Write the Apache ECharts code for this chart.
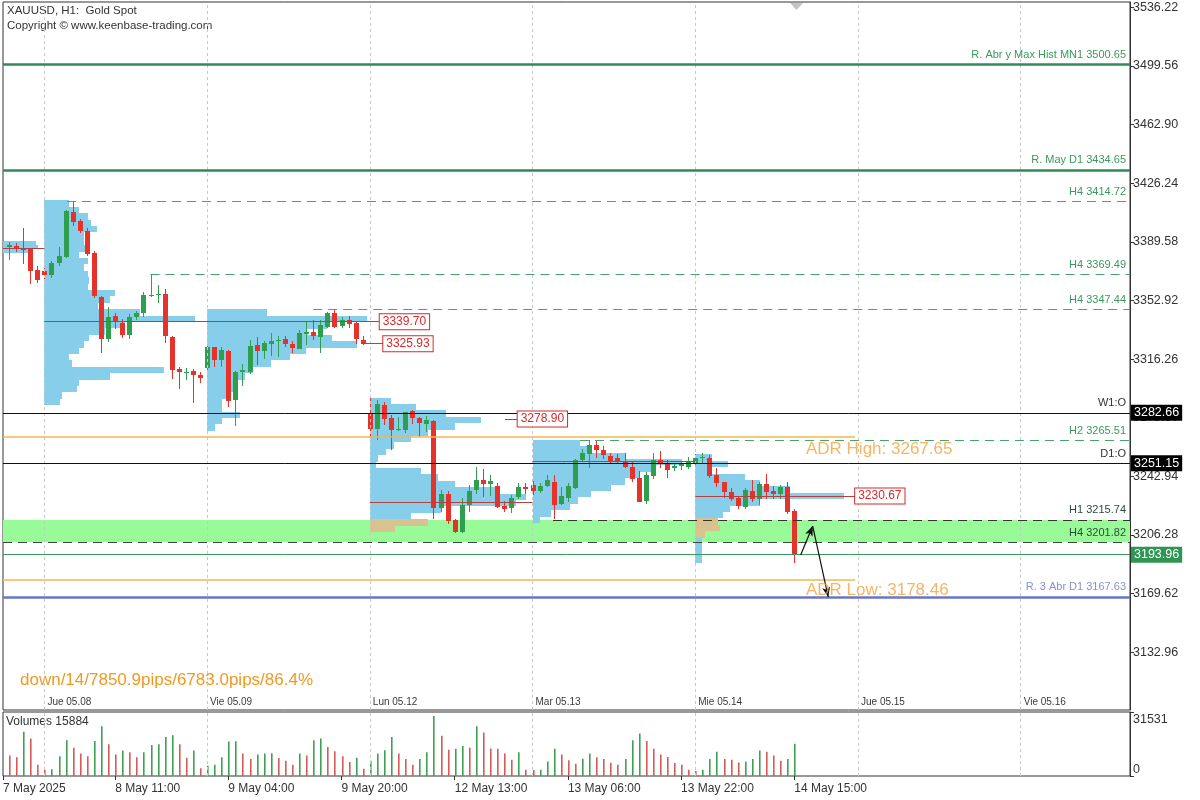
<!DOCTYPE html>
<html><head><meta charset="utf-8">
<script src="https://cdn.jsdelivr.net/npm/echarts@6/dist/echarts.min.js"></script>
<style>html,body{margin:0;padding:0;background:#fff}#c{width:1200px;height:800px}</style>
</head><body><div id="c"></div>
<script>
// ---------- DATA ----------
// H1 bars, index 0 = 7 May 19:00 ... index 111 = 14 May 15:00 ; [open, high, low, close]
const ohlc = [
[3386.0,3389.6,3378.6,3387.3],[3387.0,3388.8,3383.0,3385.0],[3385.5,3398.3,3375.7,3384.0],[3385.5,3386.0,3363.8,3371.4],
[3372.0,3374.6,3364.2,3365.7],[3371.3,3373.0,3366.0,3368.5],[3368.5,3377.6,3367.0,3376.1],[3376.2,3386.5,3374.6,3380.7],
[3380.3,3409.6,3379.5,3408.8],[3408.5,3414.72,3400.0,3402.0],[3402.5,3404.0,3395.5,3396.5],[3396.5,3398.3,3381.0,3382.4],
[3382.4,3383.8,3354.2,3355.3],[3355.3,3356.0,3320.3,3329.3],[3329.3,3349.0,3327.2,3342.8],[3343.0,3345.0,3335.0,3339.0],
[3339.0,3341.5,3329.5,3331.4],[3331.4,3344.5,3329.0,3342.8],[3342.4,3346.5,3341.0,3345.0],[3344.8,3358.5,3343.0,3356.3],
[3356.2,3369.49,3355.0,3356.5],[3356.5,3362.5,3351.0,3357.0],[3357.0,3360.0,3326.5,3330.7],[3330.3,3330.7,3304.0,3309.9],
[3310.0,3311.5,3298.0,3308.0],[3308.0,3311.0,3303.5,3308.5],[3309.0,3310.0,3289.0,3306.5],[3306.5,3308.0,3301.0,3304.8],
[3311.0,3324.5,3309.5,3324.0],[3323.7,3324.0,3311.5,3315.7],[3315.7,3324.0,3311.5,3322.0],[3321.5,3322.0,3286.5,3290.5],
[3290.5,3309.0,3274.5,3308.0],[3308.0,3313.5,3299.5,3309.5],[3308.5,3328.0,3307.0,3324.6],[3325.0,3330.3,3312.6,3321.3],
[3321.3,3327.5,3316.0,3326.2],[3325.5,3332.3,3318.0,3327.5],[3327.5,3331.0,3318.0,3328.0],[3328.8,3330.5,3323.5,3325.5],
[3325.7,3327.7,3320.0,3323.0],[3323.0,3334.5,3322.5,3332.8],[3332.0,3339.2,3325.0,3333.0],[3333.0,3340.7,3328.2,3330.3],
[3330.3,3341.0,3320.3,3337.6],[3336.5,3345.8,3336.0,3345.3],[3345.3,3347.44,3335.7,3336.5],[3337.3,3342.7,3336.0,3341.0],
[3341.0,3343.5,3336.0,3338.6],[3338.6,3339.6,3325.7,3328.7],[3328.5,3330.5,3324.7,3325.7],
[3282.66,3292.2,3266.8,3272.4],[3272.4,3290.7,3266.0,3288.1],[3287.6,3289.7,3275.1,3278.9],[3279.3,3281.4,3259.5,3271.6],
[3271.8,3280.0,3271.0,3272.4],[3272.0,3283.4,3270.0,3283.0],[3283.9,3284.5,3275.6,3279.3],[3279.3,3280.3,3267.8,3276.2],
[3275.6,3281.0,3271.0,3278.3],[3277.6,3278.3,3216.4,3223.1],[3223.1,3234.5,3220.6,3232.0],[3231.8,3233.5,3212.7,3215.2],
[3215.8,3216.5,3207.5,3208.1],[3208.1,3229.3,3207.5,3225.2],[3225.2,3237.7,3221.0,3234.0],[3234.0,3249.1,3232.5,3240.4],
[3240.4,3247.6,3230.3,3238.0],[3238.0,3244.0,3231.0,3240.0],[3237.2,3238.7,3223.1,3224.1],[3224.7,3227.6,3221.0,3222.6],
[3223.5,3231.5,3220.0,3229.7],[3229.7,3238.7,3229.0,3236.0],[3236.0,3238.7,3232.0,3234.5],
[3237.6,3240.0,3231.5,3233.9],[3233.9,3238.9,3232.5,3237.2],[3236.6,3243.5,3236.0,3240.4],[3239.7,3243.5,3215.74,3225.4],
[3225.2,3236.2,3224.7,3230.4],[3229.4,3238.9,3227.2,3237.2],[3236.0,3254.0,3235.4,3253.2],[3252.8,3260.1,3251.9,3257.4],
[3256.8,3265.51,3248.1,3262.6],[3262.6,3265.1,3254.7,3259.5],[3259.5,3262.0,3254.0,3256.4],[3255.8,3257.5,3250.6,3252.6],
[3254.3,3256.8,3250.5,3252.6],[3252.6,3257.4,3248.0,3249.1],[3249.1,3252.0,3239.7,3241.8],[3242.2,3246.0,3226.8,3227.2],
[3227.6,3245.6,3225.6,3243.9],[3243.5,3257.4,3241.4,3253.2],[3253.2,3258.9,3248.1,3250.6],[3251.2,3253.2,3241.8,3247.0],
[3248.4,3251.2,3246.3,3249.7],[3249.4,3252.5,3247.0,3250.7],[3249.1,3254.8,3247.0,3252.6],
[3251.15,3256.8,3249.7,3254.5],[3254.5,3257.4,3251.2,3255.3],[3254.7,3256.4,3242.2,3243.5],[3243.9,3248.1,3236.0,3238.7],
[3239.3,3239.7,3229.7,3233.1],[3233.1,3235.4,3227.0,3228.9],[3229.4,3230.8,3222.6,3224.1],[3224.1,3235.7,3222.6,3234.5],
[3233.9,3240.8,3227.2,3228.9],[3228.9,3239.3,3224.7,3238.0],[3238.0,3244.3,3228.9,3233.1],[3233.5,3237.0,3229.0,3231.9],
[3231.9,3237.6,3229.0,3236.2],[3236.2,3239.3,3219.3,3220.6],[3221.0,3222.7,3188.7,3193.96]
];
const volumes = [
10060,9200,21780,18450,5530,3020,3300,9700,17600,13900,
11060,9700,17250,24500,15600,10560,12580,11720,9200,11720,
15240,15600,19260,20120,15600,9050,12580,3870,5030,5530,
9200,16950,17100,11060,8400,10560,11060,11200,8900,7550,
5530,11060,10060,17600,18450,14230,12230,9700,6890,9050,
3520,7550,11060,12730,19260,11060,8400,5530,8400,11720,
29530,19770,12900,13400,14740,13900,24500,21480,13570,13400,
11060,8050,11720,3020,2900,3100,7200,13400,10560,7700,
6040,8500,11060,9200,8400,6540,5530,8400,17600,20970,
17250,13400,10560,9370,6370,5530,3020,2520,3020,8400,
11900,8400,8050,6700,7200,8400,12580,11900,10060,7550,
8400,15884];

const priceTicks = [3536.22,3499.56,3462.90,3426.24,3389.58,3352.92,3316.26,3279.60,3242.94,3206.28,3169.62,3132.96];
const volumeTicks = [0, 31531];
const dayStarts = [5, 28, 51, 74, 97, 120, 143];
const dayLabels = ['Jue 05.08','Vie 05.09','Lun 05.12','Mar 05.13','Mie 05.14','Jue 05.15','Vie 05.16'];
const timeTickIdx = [-0.85, 15, 31, 47, 63, 79, 95, 111];
const timeLabels = ['7 May 2025','8 May 11:00','9 May 04:00','9 May 20:00','12 May 13:00','13 May 06:00','13 May 22:00','14 May 15:00'];

// volume profiles: start bar, top price, bin size, widths (in bars) from top down
const profileStarts = [-0.85, 5, 28, 51, 74, 97];
const profileTops   = [3390.2, 3415.5, 3347.4, 3292.2, 3265.8, 3256.7];
const profileSteps  = [2.5, 4, 4, 4, 4, 4];
const profile07May = [4.6,5.0,3.6];
const profile08May = [3.6,5.0,6.2,6.7,7.5,5.7,5.6,6.4,5.0,6.2,5.7,6.2,6.4,6.2,10,9.3,7.6,13.5,21.3,11.4,8.6,6.4,5.7,5.0,3.6,3.9,17,9.3,5.0,4.7,2.5,2.2];
const profile09May = [8.5,22.6,17,14,17.7,21.2,14,11.7,9,6.5,5.4,4,3.7,3.2,2.1,2.1,4.7,2.1,1.1];
const profile12May = [3,6.5,10.7,15.7,12,8.2,5.8,3.4,2.2,1.1,0.8,7.2,9.6,12,17.8,22,20.6,10,5.8,8.2,3.6];
const profile13May = [6.7,8.2,13,21,17,15,13,11,8.2,6.3,5.3,2.5,1];
const profile14May = [2.4,4.6,2.4,7,9.2,13.4,21,9.2,5,4,3.2,3.5,1.4,1,1,1,1];
const profileWidthLists = [profile07May, profile08May, profile09May, profile12May, profile13May, profile14May];

// profile POC segments: [fromBar, toBar, price, boxed label?]
const pocSegments = [
  [-0.85, 5, 3385.7, false],
  [5, 52.4, 3339.70, true],
  [49.9, 52.9, 3325.93, true],
  [51, 74, 3227.0, false],
  [70.1, 71.9, 3278.90, true],
  [74, 97, 3252.6, false],
  [97, 119.6, 3230.67, true]
];

// levels
const zoneTop = 3215.74, zoneBottom = 3201.82;
const mn1Level = 3500.65, mayD1Level = 3434.65, abr3Level = 3167.63;
const weekOpen = 3282.66, dayOpen = 3251.15, lastPrice = 3193.96;
const adrHigh = 3267.65, adrLow = 3178.46, adrEnd = 119.6;
const dashedLevels = [ // [label, price, startBar]
  ['H4 3414.72', 3414.72, 8.2],
  ['H4 3369.49', 3369.49, 20],
  ['H4 3347.44', 3347.44, 43],
  ['H2 3265.51', 3265.51, 80.7]
];
const h1Level = ['H1 3215.74', 3215.74, 76.9];
const h4Zone = ['H4 3201.82', 3201.82];
const arrowPath = [[111.9, 3193.8], [113.6, 3211.9], [115.8, 3167.5]];

// ---------- CHART ----------
const X_MIN = -0.85, X_MAX = 158.45;
const UP = '#2f9e4f', DOWN = '#e5322b';
const FONT = "'Liberation Sans', Arial, sans-serif";
const GREEN_LINE = '#2e8b57', GREEN_TXT = '#3a9a5b', GREEN_DASH = '#4aa36a';
const DARK_TXT = '#2f4a3c';
const ORANGE = '#f2a23c';

const chart = echarts.init(document.getElementById('c'), null, {renderer: 'canvas'});

const candleData = ohlc.map((d, i) => [i, d[0], d[1], d[2], d[3]]);
const volData = volumes.map((v, i) => [i, v, i > 0 && v > volumes[i - 1] ? 1 : 0]);
const profileRows = [];
profileWidthLists.forEach((ws, p) => {
  ws.forEach((w, k) => {
    const top = profileTops[p] - k * profileSteps[p];
    profileRows.push([profileStarts[p], top, top - profileSteps[p], w]);
  });
});

function renderCandle(params, api) {
  const i = api.value(0), o = api.value(1), h = api.value(2), l = api.value(3), c = api.value(4);
  const col = c >= o ? UP : DOWN;
  const pH = api.coord([i, h]), pL = api.coord([i, l]), pO = api.coord([i, o]), pC = api.coord([i, c]);
  const xc = Math.round(pH[0]);
  const top = Math.round(Math.min(pO[1], pC[1]));
  const ht = Math.max(1, Math.round(Math.abs(pO[1] - pC[1])));
  return {type: 'group', children: [
    {type: 'rect', shape: {x: xc, y: Math.round(pH[1]), width: 1, height: Math.max(1, Math.round(pL[1] - pH[1]))}, style: {fill: col}},
    {type: 'rect', shape: {x: xc - 2, y: top, width: 5, height: ht}, style: {fill: col}}
  ]};
}
function renderVol(params, api) {
  const i = api.value(0), v = api.value(1), up = api.value(2);
  const a = api.coord([i, v]), b = api.coord([i, 0]);
  return {type: 'rect', shape: {x: Math.round(a[0]), y: a[1], width: 1.6, height: b[1] - a[1]},
    style: {fill: up ? '#3f9f52' : '#d65a56'}};
}
function renderProfile(params, api) {
  const s = api.value(0), pt = api.value(1), pb = api.value(2), w = api.value(3);
  const a = api.coord([s, pt]), b = api.coord([s + w, pb]);
  const mid = (pt + pb) / 2;
  const tan = mid <= zoneTop && mid >= zoneBottom + 3;
  const y0 = Math.round(a[1]), y1 = Math.round(b[1]);
  return {type: 'rect', shape: {x: Math.round(a[0]), y: y0, width: Math.max(1, Math.round(b[0] - a[0])), height: y1 - y0},
    style: {fill: tan ? '#d9c28f' : '#87ceeb'}};
}

const levelLabel = (text, color) => ({show: true, position: 'insideEndTop', formatter: text, color: color,
  fontSize: 11, fontFamily: FONT, distance: [4, 4]});
const tagLabel = (text, bg) => ({show: true, position: 'end', formatter: text, color: '#fff', backgroundColor: bg,
  fontSize: 12.5, fontFamily: FONT, padding: [2, 3, 1, 3], distance: 1});
const hidden = {color: 'rgba(0,0,0,0)', width: 1, type: 'solid'};

const levelLines = [
  {yAxis: mn1Level, lineStyle: {color: GREEN_LINE, width: 2.5, type: 'solid'}, label: levelLabel('R. Abr y Max Hist MN1 ' + mn1Level.toFixed(2), GREEN_TXT)},
  {yAxis: mayD1Level, lineStyle: {color: GREEN_LINE, width: 2.5, type: 'solid'}, label: levelLabel('R. May D1 ' + mayD1Level.toFixed(2), GREEN_TXT)},
  {yAxis: weekOpen, lineStyle: {color: '#111', width: 1, type: 'solid'}, label: levelLabel('W1:O', '#333')},
  {yAxis: dayOpen, lineStyle: {color: '#111', width: 1, type: 'solid'}, label: levelLabel('D1:O', '#333')},
  {yAxis: h4Zone[1], lineStyle: {color: '#3a4a3a', width: 1.2, type: [9, 6]}, label: levelLabel(h4Zone[0], DARK_TXT)},
  {yAxis: abr3Level, lineStyle: {color: '#6b74cc', width: 2.5, type: 'solid'}, label: levelLabel('R. 3 Abr D1 ' + abr3Level.toFixed(2), '#8890d0')},
  [{coord: [X_MIN, adrHigh], lineStyle: {color: '#f5b550', width: 1.5, type: 'solid'}, label: {show: false}}, {coord: [adrEnd, adrHigh]}],
  [{coord: [X_MIN, adrLow], lineStyle: {color: '#f5b550', width: 1.5, type: 'solid'}, label: {show: false}}, {coord: [adrEnd, adrLow]}],
  [{coord: [h1Level[2], h1Level[1]], lineStyle: {color: '#333', width: 1.2, type: [9, 6]}, label: levelLabel(h1Level[0], DARK_TXT)}, {coord: [X_MAX, h1Level[1]]}]
].concat(dashedLevels.map(d => [
  {coord: [d[2], d[1]], lineStyle: {color: GREEN_DASH, width: 1.2, type: [9, 6]}, label: levelLabel(d[0], GREEN_TXT)},
  {coord: [X_MAX, d[1]]}
]));

// price tags on the right axis
const tagLines = [
  {yAxis: weekOpen, lineStyle: hidden, label: tagLabel(weekOpen.toFixed(2), '#000')},
  {yAxis: dayOpen, lineStyle: hidden, label: tagLabel(dayOpen.toFixed(2), '#000')},
  {yAxis: lastPrice, lineStyle: {color: GREEN_TXT, width: 1, type: 'solid'}, label: tagLabel(lastPrice.toFixed(2), '#2f9552')}
];

const pocLines = pocSegments.map(s => [
  {coord: [s[0], s[2]], lineStyle: {color: '#b5403c', width: 1, type: 'solid'},
   label: s[3] ? {show: true, position: 'end', formatter: s[2].toFixed(2), color: '#d42a2a', backgroundColor: '#fff',
     borderColor: '#d42a2a', borderWidth: 1, padding: [2, 3, 1, 3], fontSize: 12, fontFamily: FONT, distance: 0} : {show: false}},
  {coord: [s[1], s[2]]}
]);

const sepLines = dayStarts.map(d => ({xAxis: d}));
const sepStyle = {color: '#c8c8c8', width: 1, type: [3, 3]};

const option = {
  animation: false,
  backgroundColor: '#fff',
  grid: [
    {left: 3, right: 70, top: 2, height: 708, show: true, borderColor: '#333', borderWidth: 1, backgroundColor: 'transparent'},
    {left: 3, right: 70, top: 712, height: 64, show: true, borderColor: '#333', borderWidth: 1, backgroundColor: 'transparent'}
  ],
  xAxis: [
    {gridIndex: 0, type: 'value', min: X_MIN, max: X_MAX, show: false, axisLine: {onZero: false}},
    {gridIndex: 1, type: 'value', min: X_MIN, max: X_MAX, position: 'bottom',
      axisLine: {show: false, onZero: false}, splitLine: {show: false},
      axisTick: {show: true, customValues: timeTickIdx, length: 4, lineStyle: {color: '#333'}},
      axisLabel: {show: true, customValues: timeTickIdx, showMinLabel: true, showMaxLabel: true, align: 'left', margin: 7,
        color: '#333', fontSize: 12, fontFamily: FONT,
        formatter: v => { const k = timeTickIdx.findIndex(t => Math.abs(t - v) < 0.01); return k >= 0 ? timeLabels[k] : ''; }}}
  ],
  yAxis: [
    {gridIndex: 0, type: 'value', position: 'right', min: 3096.89, max: 3539.53,
      axisLine: {show: true, onZero: false, lineStyle: {color: '#333'}}, splitLine: {show: false},
      axisTick: {show: true, customValues: priceTicks, length: 4, lineStyle: {color: '#333'}},
      axisLabel: {customValues: priceTicks, showMinLabel: true, showMaxLabel: true, margin: 3, color: '#333', fontSize: 12.5, fontFamily: FONT,
        formatter: v => v.toFixed(2)}},
    {gridIndex: 1, type: 'value', position: 'right', min: 0, max: volumeTicks[1],
      axisLine: {show: true, onZero: false, lineStyle: {color: '#333'}}, splitLine: {show: false},
      axisTick: {show: true, customValues: volumeTicks, length: 4, lineStyle: {color: '#333'}},
      axisLabel: {customValues: volumeTicks, showMinLabel: true, showMaxLabel: true, margin: 3, color: '#333', fontSize: 12.5, fontFamily: FONT,
        formatter: v => v === 0 ? '{b|0}' : '{t|' + v + '}',
        rich: {t: {padding: [15, 0, 0, 0], fontSize: 12.5, fontFamily: FONT, color: '#333'},
               b: {padding: [0, 0, 13, 0], fontSize: 12.5, fontFamily: FONT, color: '#333'}}}}
  ],
  series: [
    {type: 'line', name: 'sepMain', xAxisIndex: 0, yAxisIndex: 0, data: [], z: 1, silent: true,
      markLine: {symbol: 'none', silent: true, animation: false, label: {show: false}, lineStyle: sepStyle, data: sepLines}},
    {type: 'line', name: 'sepVol', xAxisIndex: 1, yAxisIndex: 1, data: [], z: 1, silent: true,
      markLine: {symbol: 'none', silent: true, animation: false, label: {show: false}, lineStyle: sepStyle, data: sepLines}},
    {type: 'line', name: 'zone', xAxisIndex: 0, yAxisIndex: 0, data: [], z: 1, silent: true,
      markArea: {silent: true, itemStyle: {color: '#98fb98'}, data: [[{yAxis: zoneTop}, {yAxis: zoneBottom}]]}},
    {type: 'custom', name: 'profiles', xAxisIndex: 0, yAxisIndex: 0, z: 2, silent: true, clip: true,
      renderItem: renderProfile, data: profileRows, encode: {x: 0, y: 1}},
    {type: 'line', name: 'levels', xAxisIndex: 0, yAxisIndex: 0, data: [], z: 3, silent: true,
      markLine: {symbol: 'none', silent: true, animation: false, precision: 2, data: levelLines.concat(pocLines)}},
    {type: 'custom', name: 'candles', xAxisIndex: 0, yAxisIndex: 0, z: 4, silent: true, clip: true,
      renderItem: renderCandle, data: candleData, encode: {x: 0, y: [1, 2, 3, 4]}},
    {type: 'line', name: 'tags', xAxisIndex: 0, yAxisIndex: 0, data: [], z: 7, silent: true,
      markLine: {symbol: 'none', silent: true, animation: false, precision: 2, data: tagLines}},
    {type: 'line', name: 'arrows', xAxisIndex: 0, yAxisIndex: 0, data: [], z: 5, silent: true,
      markLine: {symbol: ['none', 'arrow'], symbolSize: [6, 10], silent: true, animation: false, label: {show: false},
        lineStyle: {color: '#111', width: 1.2, type: 'solid'},
        data: [[{coord: arrowPath[0]}, {coord: arrowPath[1]}], [{coord: arrowPath[1]}, {coord: arrowPath[2]}]]}},
    {type: 'scatter', name: 'notes', xAxisIndex: 0, yAxisIndex: 0, z: 6, silent: true, symbolSize: 0,
      data: [
        {value: [112.65, adrHigh], label: {show: true, position: 'right', distance: 0, offset: [0, 12], formatter: 'ADR High: ' + adrHigh.toFixed(2), color: ORANGE, fontSize: 17, fontFamily: FONT}},
        {value: [112.65, adrLow], label: {show: true, position: 'right', distance: 0, offset: [0, 10.5], formatter: 'ADR Low: ' + adrLow.toFixed(2), color: ORANGE, fontSize: 17, fontFamily: FONT}}
      ].concat(dayStarts.map((d, k) => ({value: [d, 3101.9],
        label: {show: true, position: 'right', distance: 3, formatter: dayLabels[k], color: '#000', fontSize: 10, fontFamily: FONT}})))},
    {type: 'custom', name: 'volumes', xAxisIndex: 1, yAxisIndex: 1, z: 4, silent: true, clip: true,
      renderItem: renderVol, data: volData, encode: {x: 0, y: 1}}
  ],
  graphic: [
    {type: 'text', left: 7, top: 5, style: {text: 'XAUUSD, H1:  Gold Spot', font: "11.5px 'Liberation Sans', Arial", fill: '#333'}},
    {type: 'text', left: 7, top: 20, style: {text: 'Copyright \u00a9 www.keenbase-trading.com', font: "11.5px 'Liberation Sans', Arial", fill: '#333'}},
    {type: 'text', left: 20, top: 672, style: {text: 'down/14/7850.9pips/6783.0pips/86.4%', font: "17px 'Liberation Sans', Arial", fill: '#f09a22'}},
    {type: 'text', left: 6, top: 716, style: {text: 'Volumes ' + volumes[volumes.length - 1], font: "12px 'Liberation Sans', Arial", fill: '#333'}},
    {type: 'polygon', shape: {points: [[790, 3], [803, 3], [796.5, 10]]}, style: {fill: '#c4c4c4'}}
  ]
};
chart.setOption(option);
</script>
</body></html>
